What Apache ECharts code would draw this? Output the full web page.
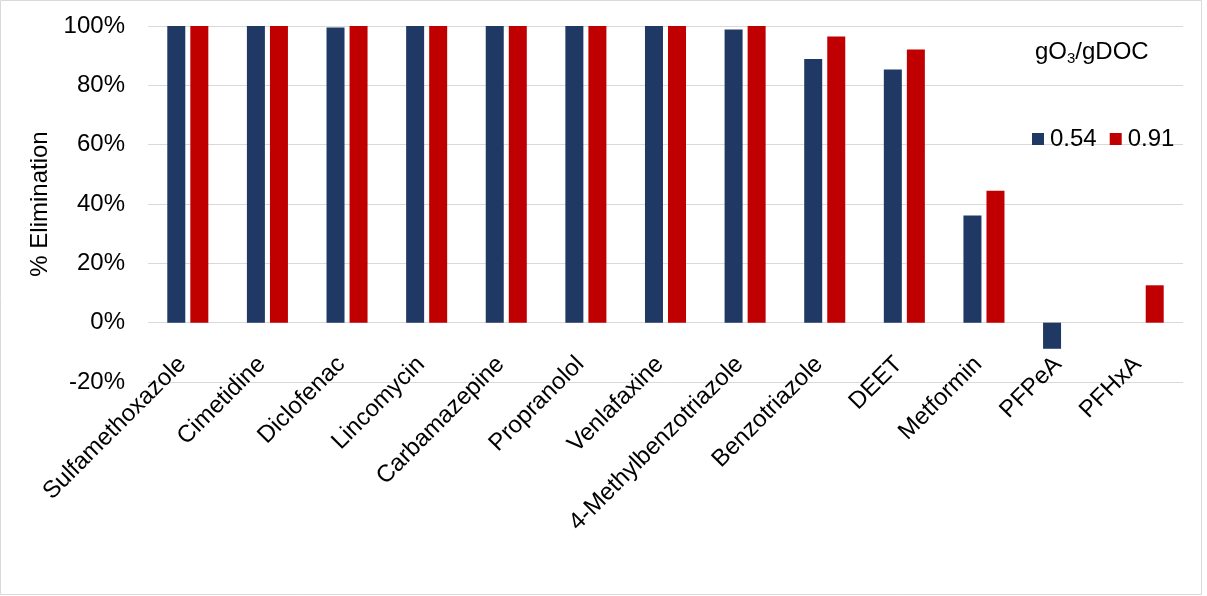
<!DOCTYPE html>
<html>
<head>
<meta charset="utf-8">
<script src="https://cdn.jsdelivr.net/npm/echarts@6/dist/echarts.min.js"></script>
<style>html,body{margin:0;padding:0;background:#fff}#c{width:1207px;height:596px}</style>
</head>
<body>
<div id="c"></div>
<script>
const categories = ["Sulfamethoxazole","Cimetidine","Diclofenac","Lincomycin","Carbamazepine","Propranolol","Venlafaxine","4-Methylbenzotriazole","Benzotriazole","DEET","Metformin","PFPeA","PFHxA"];
const dose054 = [100,100,99.5,100,100,100,100,98.8,88.9,85.3,36.1,-8.8,0];
const dose091 = [100,100,100,100,100,100,100,100,96.5,92.1,44.5,0,12.6];
const yTicks = {min:-20, max:100, interval:20};
const seriesNames = ["0.54","0.91"];

const chart = echarts.init(document.getElementById('c'));
const font = 'Liberation Sans, Arial, sans-serif';
chart.setOption({
  animation:false,
  textStyle:{fontFamily:font},
  graphic:[
    {type:'rect', shape:{x:0.5,y:0.5,width:1201,height:594}, style:{fill:'none',stroke:'#d9d9d9',lineWidth:1}, silent:true},
    {type:'text', left:1035, top:40, style:{
      text:'{n|gO}{s|3}{n|/gDOC}',
      rich:{n:{fontSize:24,fontFamily:font,fill:'#000',lineHeight:28,verticalAlign:'middle'},
            s:{fontSize:15,fontFamily:font,fill:'#000',lineHeight:28,verticalAlign:'bottom',padding:[6,0,0,0]}}
    }}
  ],
  legend:{
    data:seriesNames, left:1032, top:127, padding:0, itemWidth:12, itemHeight:12, itemGap:13,
    icon:'rect', textStyle:{fontSize:24, color:'#000', fontFamily:font, padding:[0,0,0,1]}
  },
  grid:{left:148, right:24, top:26, bottom:214, containLabel:false},
  xAxis:{
    type:'category', data:categories,
    axisLine:{show:false, onZero:false},
    axisTick:{show:false},
    axisLabel:{rotate:45, fontSize:24, color:'#000', margin:-27, interval:0, fontFamily:font, padding:[0,8,0,0]}
  },
  yAxis:{
    type:'value', min:yTicks.min, max:yTicks.max, interval:yTicks.interval,
    name:'% Elimination', nameLocation:'middle', nameGap:92, nameRotate:90,
    nameTextStyle:{fontSize:24, color:'#000', fontFamily:font},
    axisLine:{show:false}, axisTick:{show:false},
    axisLabel:{formatter:'{value}%', fontSize:24, color:'#000', margin:23, fontFamily:font},
    splitLine:{lineStyle:{color:'#d9d9d9', width:1}}
  },
  series:[
    {name:seriesNames[0], type:'bar', data:dose054, barWidth:18, barGap:'28%', itemStyle:{color:'#1F3864'}},
    {name:seriesNames[1], type:'bar', data:dose091, barWidth:18, barGap:'28%', itemStyle:{color:'#C00000'}}
  ]
});
</script>
</body>
</html>
